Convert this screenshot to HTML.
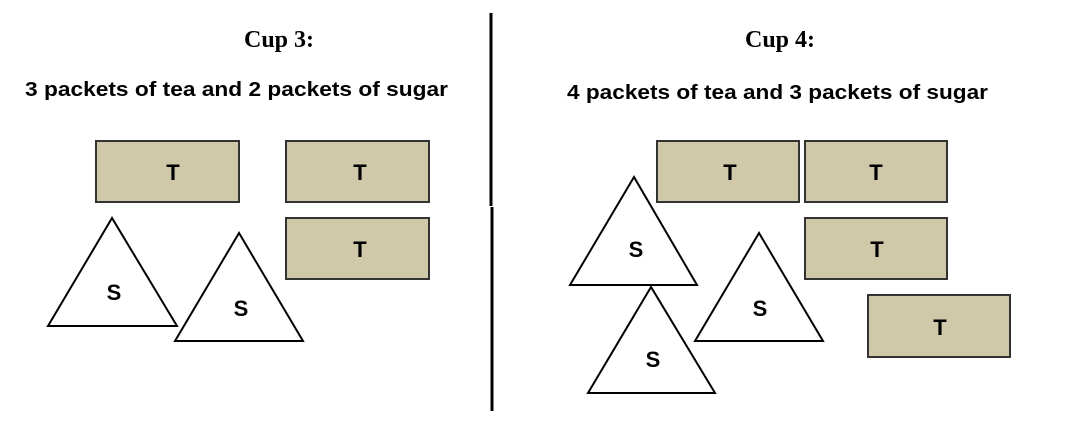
<!DOCTYPE html>
<html><head><style>html,body{margin:0;padding:0;background:#fff}svg{display:block}</style></head><body>
<svg width="1065" height="431" viewBox="0 0 1065 431" xmlns="http://www.w3.org/2000/svg">
<g font-family="Liberation Serif, serif" font-weight="bold" font-size="24" fill="#000" text-anchor="middle">
<text x="279" y="47">Cup 3:</text>
<text x="780" y="47">Cup 4:</text>
</g>
<g font-family="Liberation Sans, sans-serif" font-weight="bold" font-size="20" fill="#000">
<text x="25" y="96" textLength="423" lengthAdjust="spacingAndGlyphs">3 packets of tea and 2 packets of sugar</text>
<text x="567" y="99" textLength="421" lengthAdjust="spacingAndGlyphs">4 packets of tea and 3 packets of sugar</text>
</g>
<line x1="491" y1="13" x2="491" y2="206" stroke="#000" stroke-width="3"/>
<line x1="492" y1="207" x2="492" y2="411" stroke="#000" stroke-width="3"/>
<g fill="#cfc9aa" stroke="#333" stroke-width="2">
<rect x="96" y="141" width="143" height="61"/>
<rect x="286" y="141" width="143" height="61"/>
<rect x="286" y="218" width="143" height="61"/>
<rect x="657" y="141" width="142" height="61"/>
<rect x="805" y="141" width="142" height="61"/>
<rect x="805" y="218" width="142" height="61"/>
<rect x="868" y="295" width="142" height="62"/>
</g>
<g fill="#fff" stroke="#000" stroke-width="2">
<polygon points="112,218 48,326 177,326"/>
<polygon points="239,233 175,341 303,341"/>
<polygon points="634,177 570,285 697,285"/>
<polygon points="651,287 588,393 715,393"/>
<polygon points="759,233 695,341 823,341"/>
</g>
<g font-family="Liberation Sans, sans-serif" font-weight="bold" font-size="22" fill="#000" text-anchor="middle">
<text x="173" y="180">T</text>
<text x="360" y="180">T</text>
<text x="360" y="257">T</text>
<text x="730" y="180">T</text>
<text x="876" y="180">T</text>
<text x="877" y="257">T</text>
<text x="940" y="335">T</text>
<text x="114" y="300">S</text>
<text x="241" y="316">S</text>
<text x="636" y="257">S</text>
<text x="653" y="367">S</text>
<text x="760" y="316">S</text>
</g>
</svg>
</body></html>
